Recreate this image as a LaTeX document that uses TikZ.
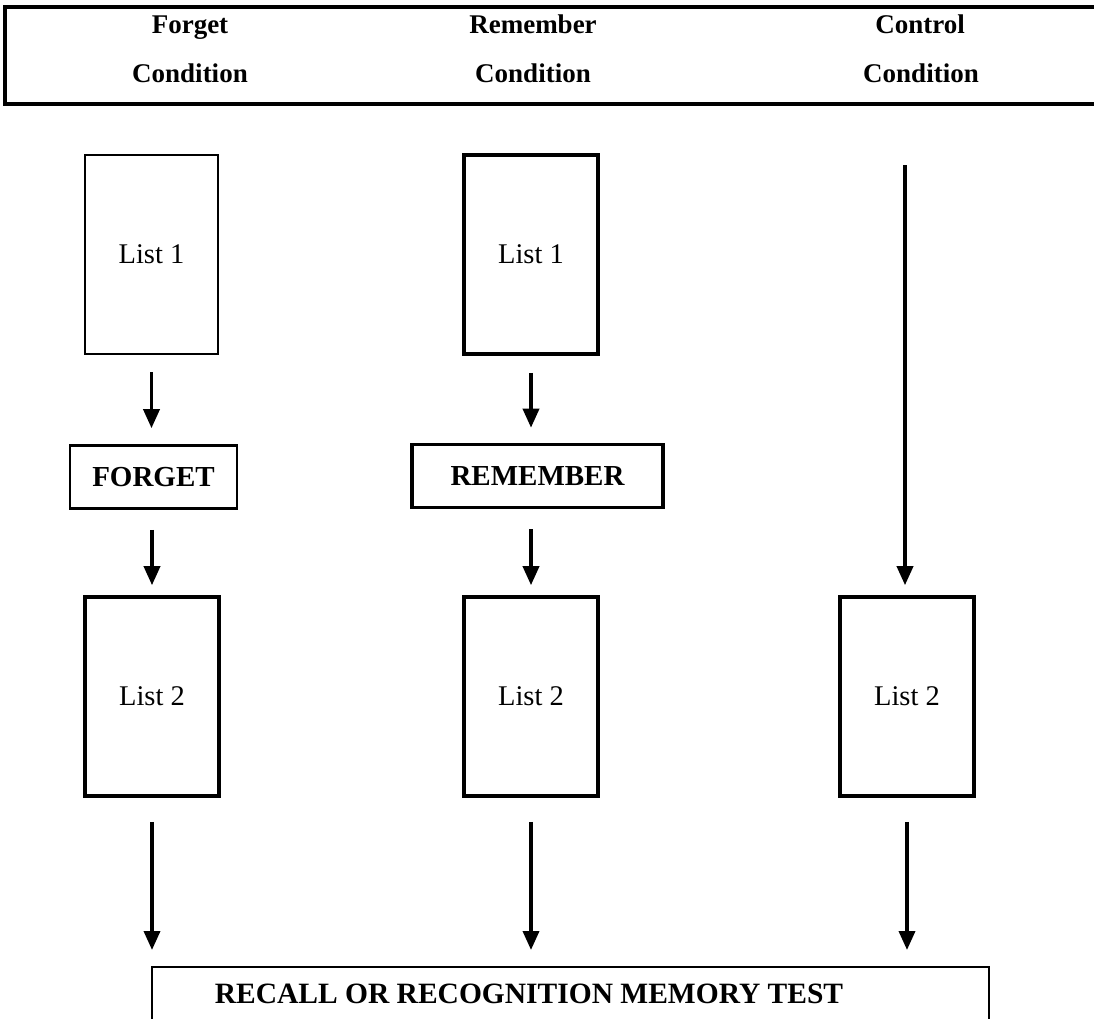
\documentclass[tikz,border=0pt]{standalone}
\usepackage{fontspec}
\setmainfont{Liberation Serif}
\usetikzlibrary{arrows.meta}
\begin{document}
\begin{tikzpicture}[x=1pt,y=-1pt,
  listbox/.style={draw, line width=3.6pt, minimum width=134pt, minimum height=199pt,
    inner sep=0pt, font=\fontsize{28.5}{30}\selectfont},
  cuebox/.style={draw, line width=3.6pt, minimum height=63pt, inner sep=0pt,
    font=\fontsize{29}{31}\selectfont\bfseries},
  headtext/.style={anchor=base, inner sep=0pt, font=\fontsize{27}{28}\selectfont\bfseries},
  frame/.style={line width=3.2pt, line cap=rect},
  flow/.style={line width=3.6pt, -{Triangle[width=16pt,length=19pt]}},
]
\useasboundingbox (0,0) rectangle (1094,1018);

% header row with the three condition names
\draw[frame] (1094,7) -- (5,7) -- (5,104) -- (1094,104);
\node[headtext] (h1a) at (190,33) {Forget};
\node[headtext] (h1b) at (190,82) {Condition};
\node[headtext] (h2a) at (533,33) {Remember};
\node[headtext] (h2b) at (533,82) {Condition};
\node[headtext] (h3a) at (920,33) {Control};
\node[headtext] (h3b) at (921,82) {Condition};

% study lists and cues
\node[listbox, line width=2pt, minimum width=133pt] (fl1) at (151.5,254.5) {List 1};
\node[listbox] (rl1) at (531,254.5) {List 1};
\node[cuebox, line width=2.6pt, minimum width=167pt] (fcue) at (153.5,477) {FORGET};
\node[cuebox, minimum width=251pt] (rcue) at (537.5,476) {REMEMBER};
\node[listbox] (fl2) at (152,696.5) {List 2};
\node[listbox] (rl2) at (531,696.5) {List 2};
\node[listbox] (cl2) at (907,696.5) {List 2};
\coordinate (cstart) at (905,165);

% final memory test
\draw[frame, line width=2.8pt] (152,1018) -- (152,967) -- (989,967) -- (989,1018);
\coordinate (testtop) at (570,967);
\node[anchor=base, inner sep=0pt, font=\fontsize{29.5}{31}\selectfont\bfseries] (test)
  at (529,1003) {RECALL OR RECOGNITION MEMORY TEST};

% flow arrows
\draw[flow, shorten <=17pt, shorten >=16pt] (fl1.south) -- (fl1.south |- fcue.north);
\draw[flow, shorten <=20pt, shorten >=10pt] (fcue.south -| fl2.north) -- (fl2.north);
\draw[flow, shorten <=17pt, shorten >=15pt] (rl1.south) -- (rl1.south |- rcue.north);
\draw[flow, shorten <=20pt, shorten >=10pt] (rcue.south -| rl2.north) -- (rl2.north);
\draw[flow, shorten >=10pt] (cstart) -- (cstart |- cl2.north);
\draw[flow, shorten <=24pt, shorten >=17pt] (fl2.south) -- (fl2.south |- testtop);
\draw[flow, shorten <=24pt, shorten >=17pt] (rl2.south) -- (rl2.south |- testtop);
\draw[flow, shorten <=24pt, shorten >=17pt] (cl2.south) -- (cl2.south |- testtop);
\end{tikzpicture}
\end{document}
